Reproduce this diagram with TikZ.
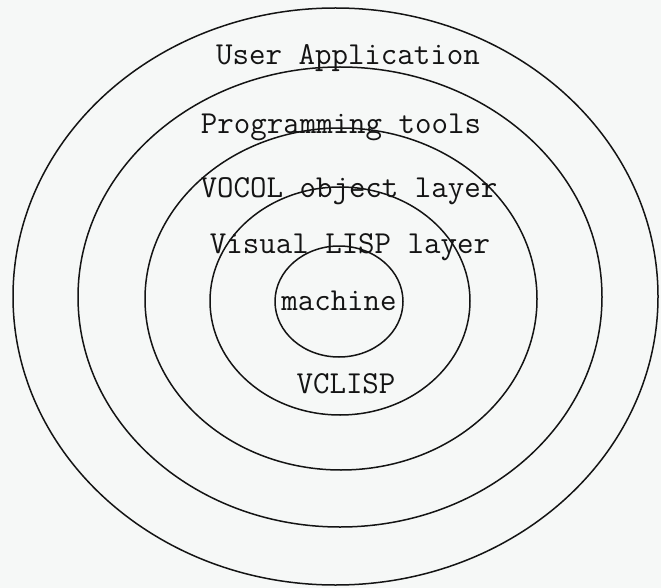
\documentclass[tikz,border=0pt]{standalone}
\usepackage{fontspec}
\definecolor{paper}{RGB}{246,248,247}
\definecolor{ink}{RGB}{20,20,20}
\tikzset{
  ring/.style={draw=ink, line width=1.5pt},
  layer/.style={anchor=base, inner sep=0pt, text=ink,
    font=\ttfamily\fontsize{32}{34}\selectfont}
}
\begin{document}
\begin{tikzpicture}[x=1pt, y=-1pt]
  % page area
  \fill[paper] (0,0) rectangle (661,588);
  \useasboundingbox (0,0) rectangle (661,588);

  % nested layers, outermost first
  \draw[ring] (335.5,296.5) ellipse [x radius=322.5pt, y radius=288.5pt];
  \draw[ring] (340,297)     ellipse [x radius=262pt,   y radius=230pt];
  \draw[ring] (341,299)     ellipse [x radius=196pt,   y radius=171pt];
  \draw[ring] (340,301)     ellipse [x radius=130pt,   y radius=114pt];
  \draw[ring] (339,301.5)   ellipse [x radius=64pt,    y radius=55.5pt];

  % layer names
  \node[layer] (app)     at (348,65)  {User Application};
  \node[layer] (tools)   at (341,134) {Programming tools};
  \node[layer] (vocol)   at (349,197) {VOCOL object layer};
  \node[layer] (vlisp)   at (350,253) {Visual LISP layer};
  \node[layer] (machine) at (339,310) {machine};
  \node[layer] (vclisp)  at (346,393) {VCLISP};
\end{tikzpicture}
\end{document}
